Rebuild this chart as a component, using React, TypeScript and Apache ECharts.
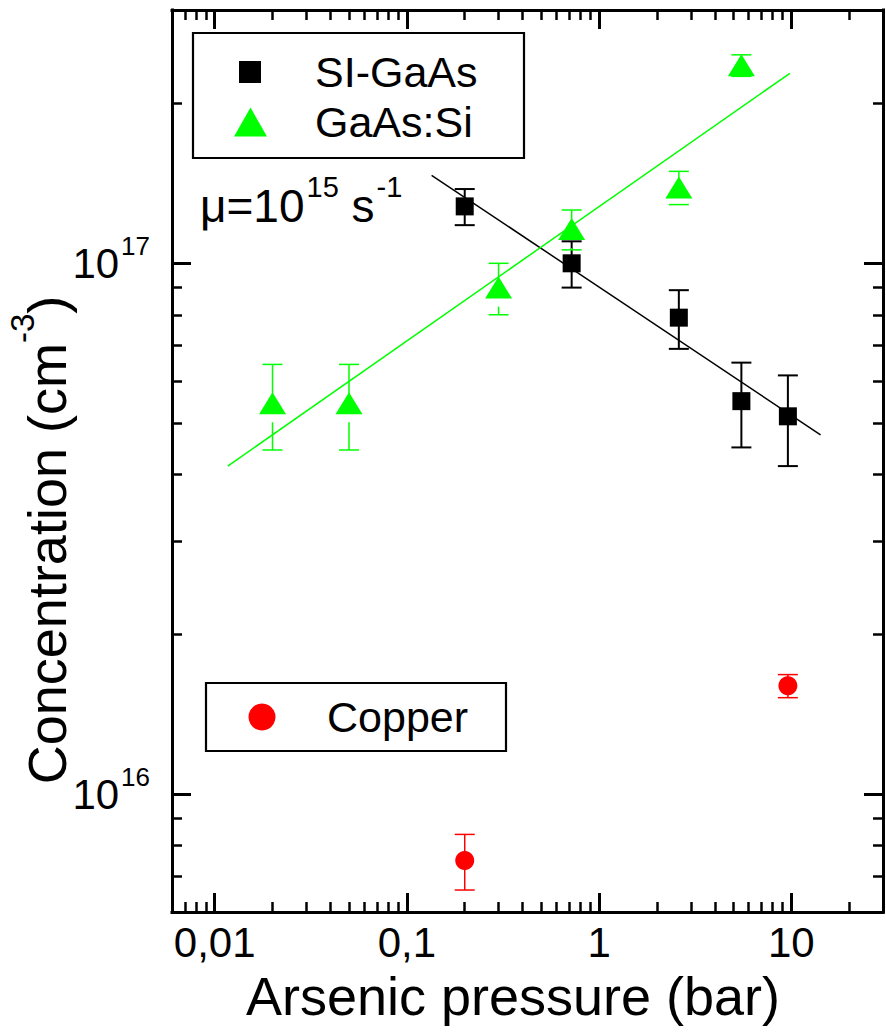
import React, { useEffect, useRef } from 'react';
import * as echarts from 'echarts';

const FONT = 'Liberation Sans, Arial, sans-serif';

// axis ranges and ticks
const xMin = 0.006;
const xMax = 30;
const yMin = 6e15;
const yMax = 3e17;
const xMajorTicks = [0.01, 0.1, 1, 10];
const xTickLabels = ['0,01', '0,1', '1', '10'];
const xMinorTicks = [0.007, 0.008, 0.009, 0.02, 0.03, 0.04, 0.05, 0.06, 0.07, 0.08, 0.09,
  0.2, 0.3, 0.4, 0.5, 0.6, 0.7, 0.8, 0.9, 2, 3, 4, 5, 6, 7, 8, 9, 20];
const yMinorTicks = [7e15, 8e15, 9e15, 2e16, 3e16, 4e16, 5e16, 6e16, 7e16, 8e16, 9e16, 2e17];

// SI-GaAs (black squares)
const siPressure = [0.2, 0.72, 2.6, 5.5, 9.6];
const siConc = [1.28e17, 1.0e17, 7.9e16, 5.5e16, 5.15e16];
const siErr = [1.0e16, 1.0e16, 1.0e16, 1.0e16, 1.0e16];

// GaAs:Si (green triangles)
const gaPressure = [0.02, 0.05, 0.3, 0.72, 2.6, 5.5];
const gaConc = [5.45e16, 5.45e16, 9.0e16, 1.16e17, 1.39e17, 2.36e17];
const gaErr = [1.0e16, 1.0e16, 1.0e16, 1.0e16, 1.0e16, 1.1e16];

// Copper (red circles)
const cuPressure = [0.2, 9.6];
const cuConc = [7.5e15, 1.6e16];
const cuErr = [9e14, 8e14];

// fit lines
const siFitX = [0.1345, 14.2];
const siFitY = [1.465e17, 4.75e16];
const gaFitX = [0.0117, 9.83];
const gaFitY = [4.15e16, 2.28e17];

const BLACK = '#000000';
const GREEN = '#00ff00';
const RED = '#ff0000';

function errorSeries(xs: number[], ys: number[], errs: number[], color: string, width: number, gapBelow: number) {
  return {
    type: 'custom',
    xAxisIndex: 0,
    yAxisIndex: 0,
    silent: true,
    z: 2,
    data: xs.map((x, i) => [x, ys[i] - errs[i], ys[i] + errs[i], ys[i]]),
    encode: { x: 0, y: [1, 2, 3] },
    renderItem: (params: any, api: any) => {
      const x = api.value(0);
      const lo = api.coord([x, api.value(1)]);
      const hi = api.coord([x, api.value(2)]);
      const c = api.coord([x, api.value(3)]);
      const cap = 10;
      const st = { stroke: color, lineWidth: width };
      const children: any[] = [
        { type: 'line', shape: { x1: hi[0], y1: hi[1], x2: c[0], y2: c[1] }, style: st },
        { type: 'line', shape: { x1: hi[0] - cap, y1: hi[1], x2: hi[0] + cap, y2: hi[1] }, style: st },
        { type: 'line', shape: { x1: lo[0] - cap, y1: lo[1], x2: lo[0] + cap, y2: lo[1] }, style: st },
      ];
      const startY = c[1] + gapBelow;
      if (startY < lo[1]) {
        children.push({ type: 'line', shape: { x1: lo[0], y1: startY, x2: lo[0], y2: lo[1] }, style: st });
      }
      return { type: 'group', children };
    },
  };
}

function xLabel(v: number) {
  const i = xMajorTicks.findIndex((t) => Math.abs(Math.log10(v) - Math.log10(t)) < 1e-6);
  return i >= 0 ? xTickLabels[i] : '';
}

function yLabel(v: number) {
  const e = Math.log10(v);
  const r = Math.round(e);
  if (Math.abs(e - r) > 1e-6) return '';
  return '{b|10}{s|' + r + '}';
}

const frameLine = { show: true, lineStyle: { color: BLACK, width: 3, cap: 'square' } };
const majorTick = { show: true, inside: true, length: 19, lineStyle: { color: BLACK, width: 3 } };

function minorTick(values: number[]) {
  return { show: true, inside: true, length: 10, customValues: values, lineStyle: { color: BLACK, width: 2.5 } };
}

export default function App() {
  const ref = useRef<HTMLDivElement>(null);

  useEffect(() => {
    if (!ref.current) return;
    const chart = echarts.init(ref.current, null, { renderer: 'svg' });

    const xBase = { type: 'log', min: xMin, max: xMax, gridIndex: 0, splitLine: { show: false } };
    const yBase = { type: 'log', min: yMin, max: yMax, gridIndex: 0, splitLine: { show: false } };

    const option: any = {
      animation: false,
      backgroundColor: '#ffffff',
      textStyle: { fontFamily: FONT },
      grid: { left: 172, top: 10, width: 711, height: 902, containLabel: false },
      xAxis: [
        {
          ...xBase, position: 'bottom', axisLine: frameLine, axisTick: majorTick,
          axisLabel: {
            show: true, margin: 13, fontSize: 42, lineHeight: 34, color: BLACK, fontFamily: FONT,
            formatter: xLabel,
          },
        },
        { ...xBase, position: 'top', axisLine: frameLine, axisTick: majorTick, axisLabel: { show: false } },
        { ...xBase, position: 'bottom', axisLine: { show: false }, axisTick: minorTick(xMinorTicks), axisLabel: { show: false } },
        { ...xBase, position: 'top', axisLine: { show: false }, axisTick: minorTick(xMinorTicks), axisLabel: { show: false } },
      ],
      yAxis: [
        {
          ...yBase, position: 'left', axisLine: frameLine, axisTick: majorTick,
          axisLabel: {
            show: true, margin: 22, color: BLACK, fontFamily: FONT,
            formatter: yLabel,
            rich: {
              b: { fontSize: 42, fontFamily: FONT, color: BLACK },
              s: { fontSize: 26, fontFamily: FONT, color: BLACK, padding: [0, 0, 35, 2] },
            },
          },
        },
        { ...yBase, position: 'right', axisLine: frameLine, axisTick: majorTick, axisLabel: { show: false } },
        { ...yBase, position: 'left', axisLine: { show: false }, axisTick: minorTick(yMinorTicks), axisLabel: { show: false } },
        { ...yBase, position: 'right', axisLine: { show: false }, axisTick: minorTick(yMinorTicks), axisLabel: { show: false } },
      ],
      series: [
        {
          name: 'SI-GaAs fit', type: 'line', xAxisIndex: 0, yAxisIndex: 0, symbol: 'none', silent: true, z: 1,
          lineStyle: { color: BLACK, width: 1.5 },
          data: siFitX.map((x, i) => [x, siFitY[i]]),
        },
        {
          name: 'GaAs:Si fit', type: 'line', xAxisIndex: 0, yAxisIndex: 0, symbol: 'none', silent: true, z: 1,
          lineStyle: { color: GREEN, width: 1.5 },
          data: gaFitX.map((x, i) => [x, gaFitY[i]]),
        },
        errorSeries(siPressure, siConc, siErr, BLACK, 2, 0),
        errorSeries(gaPressure, gaConc, gaErr, GREEN, 1.5, 19),
        errorSeries(cuPressure, cuConc, cuErr, RED, 1.5, 0),
        {
          name: 'SI-GaAs', type: 'scatter', xAxisIndex: 0, yAxisIndex: 0, z: 3,
          symbol: 'rect', symbolSize: 18, itemStyle: { color: BLACK, opacity: 1 },
          data: siPressure.map((x, i) => [x, siConc[i]]),
        },
        {
          name: 'GaAs:Si', type: 'scatter', xAxisIndex: 0, yAxisIndex: 0, z: 3,
          symbol: 'triangle', symbolSize: [27, 22], itemStyle: { color: GREEN, opacity: 1 },
          data: gaPressure.map((x, i) => [x, gaConc[i]]),
        },
        {
          name: 'Copper', type: 'scatter', xAxisIndex: 0, yAxisIndex: 0, z: 3,
          symbol: 'circle', symbolSize: 19, itemStyle: { color: RED, opacity: 1 },
          data: cuPressure.map((x, i) => [x, cuConc[i]]),
        },
      ],
      graphic: [
        // legend 1
        { type: 'rect', shape: { x: 193, y: 33, width: 331, height: 125 }, style: { fill: '#fff', stroke: BLACK, lineWidth: 2.2 }, z: 10 },
        { type: 'rect', shape: { x: 239, y: 61, width: 22, height: 22 }, style: { fill: BLACK }, z: 11 },
        { type: 'text', x: 315, y: 72, style: { text: 'SI-GaAs', fontSize: 43, fontFamily: FONT, fill: BLACK, verticalAlign: 'middle', align: 'left' }, z: 11 },
        { type: 'polygon', shape: { points: [[234, 136.5], [267, 136.5], [250.5, 107.5]] }, style: { fill: GREEN }, z: 11 },
        { type: 'text', x: 315, y: 122, style: { text: 'GaAs:Si', fontSize: 43, fontFamily: FONT, fill: BLACK, verticalAlign: 'middle', align: 'left' }, z: 11 },
        // legend 2
        { type: 'rect', shape: { x: 206, y: 683, width: 300, height: 68 }, style: { fill: '#fff', stroke: BLACK, lineWidth: 2.2 }, z: 10 },
        { type: 'circle', shape: { cx: 262, cy: 717, r: 13.5 }, style: { fill: RED }, z: 11 },
        { type: 'text', x: 327, y: 717, style: { text: 'Copper', fontSize: 43, fontFamily: FONT, fill: BLACK, verticalAlign: 'middle', align: 'left' }, z: 11 },
        // annotation
        {
          type: 'text', x: 200, y: 206, z: 11,
          style: {
            text: '{a|μ=10}{s|15}{a| s}{s|-1}', verticalAlign: 'middle', align: 'left',
            rich: {
              a: { fontSize: 46, fontFamily: FONT, fill: BLACK },
              s: { fontSize: 29, fontFamily: FONT, fill: BLACK, padding: [0, 0, 38, 2] },
            },
          },
        },
        // axis titles
        {
          type: 'text', x: 513, y: 996, z: 11,
          style: { text: 'Arsenic pressure (bar)', fontSize: 54, lineHeight: 44, fontFamily: FONT, fill: BLACK, align: 'center', verticalAlign: 'middle' },
        },
        {
          type: 'text', x: 47, y: 540, rotation: Math.PI / 2, z: 11,
          style: {
            text: '{a|Concentration (cm}{s|-3}{a|)}', align: 'center', verticalAlign: 'middle',
            rich: {
              a: { fontSize: 54, fontFamily: FONT, fill: BLACK },
              s: { fontSize: 33, fontFamily: FONT, fill: BLACK, padding: [0, 0, 49, 0] },
            },
          },
        },
      ],
    };

    chart.setOption(option);
    return () => chart.dispose();
  }, []);

  return (
    <div
      ref={ref}
      style={{ position: 'fixed', left: 0, top: 0, width: 886, height: 1032, background: '#fff' }}
    />
  );
}
